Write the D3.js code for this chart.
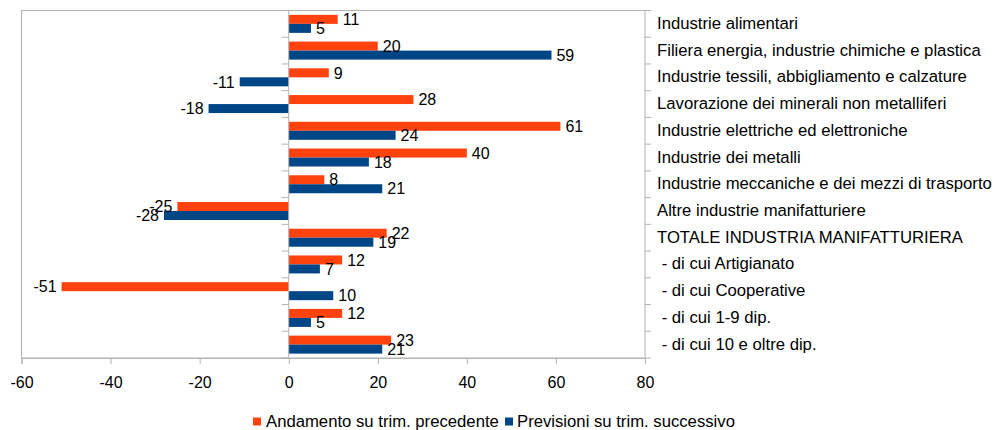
<!DOCTYPE html>
<html>
<head>
<meta charset="utf-8">
<script src="https://cdn.jsdelivr.net/npm/d3@7"></script>
<style>
  html, body { margin: 0; padding: 0; background: #ffffff; }
  svg { display: block; font-family: "Liberation Sans", Arial, sans-serif; }
</style>
</head>
<body>
<svg id="chart" width="994" height="430"></svg>
<script>
// Categories, top to bottom
const categories = [
  "Industrie alimentari",
  "Filiera energia, industrie chimiche e plastica",
  "Industrie tessili, abbigliamento e calzature",
  "Lavorazione dei minerali non metalliferi",
  "Industrie elettriche ed elettroniche",
  "Industrie dei metalli",
  "Industrie meccaniche e dei mezzi di trasporto",
  "Altre industrie manifatturiere",
  "TOTALE INDUSTRIA MANIFATTURIERA",
  " - di cui Artigianato",
  " - di cui Cooperative",
  " - di cui 1-9 dip.",
  " - di cui 10 e oltre dip."
];

const seriesNames = ["Andamento su trim. precedente", "Previsioni su trim. successivo"];
const seriesColors = ["#ff420e", "#004586"];

const andamento = [11, 20, 9, 28, 61, 40, 8, -25, 22, 12, -51, 12, 23];
const previsioni = [5, 59, -11, -18, 24, 18, 21, -28, 19, 7, 10, 5, 21];

const xTicks = [-60, -40, -20, 0, 20, 40, 60, 80];

const series = [andamento, previsioni];

const svg = d3.select("#chart");
const plot = { left: 21.5, right: 645, top: 10.5, bottom: 358 };
const gridColor = "#b3b3b3";

const x = d3.scaleLinear().domain([-60, 80]).range([plot.left, plot.right]);
const y = d3.scaleBand().domain(categories).range([plot.top, plot.bottom])
  .paddingInner(0.327).paddingOuter(0.1635);
const ySub = d3.scaleBand().domain([0, 1]).range([0, y.bandwidth()]);

// Plot frame
svg.append("rect")
  .attr("x", plot.left).attr("y", plot.top)
  .attr("width", plot.right - plot.left).attr("height", plot.bottom - plot.top)
  .attr("fill", "none").attr("stroke", gridColor).attr("stroke-width", 1);

// Bottom value axis
const xAxis = svg.append("g")
  .attr("transform", `translate(0,${plot.bottom})`)
  .call(d3.axisBottom(x).tickValues(xTicks).tickSize(6).tickPadding(13)
    .tickFormat(d => d3.format("d")(d).replace("\u2212", "-")));
xAxis.select(".domain").attr("stroke", gridColor);
xAxis.selectAll(".tick line").attr("stroke", gridColor);
xAxis.selectAll(".tick text").attr("fill", "#000").style("font-size", "16px")
  .style("font-family", "'Liberation Sans', Arial, sans-serif");

// Category boundary ticks on the zero line and on the right frame
const boundaries = d3.range(categories.length + 1).map(i => plot.top + i * (plot.bottom - plot.top) / categories.length);
svg.append("g").selectAll("line").data(boundaries).join("line")
  .attr("x1", x(0) - 7).attr("x2", x(0))
  .attr("y1", d => d).attr("y2", d => d)
  .attr("stroke", gridColor);
svg.append("g").selectAll("line").data(boundaries).join("line")
  .attr("x1", plot.right).attr("x2", plot.right + 6)
  .attr("y1", d => d).attr("y2", d => d)
  .attr("stroke", gridColor);

// Bars
const barRows = [];
categories.forEach((c, i) => {
  series.forEach((s, k) => barRows.push({ cat: c, k, v: s[i] }));
});

svg.append("g").selectAll("rect").data(barRows).join("rect")
  .attr("x", d => x(Math.min(0, d.v)))
  .attr("width", d => Math.abs(x(d.v) - x(0)))
  .attr("y", d => y(d.cat) + ySub(d.k))
  .attr("height", ySub.bandwidth())
  .attr("fill", d => seriesColors[d.k]);

// Zero line
svg.append("line")
  .attr("x1", x(0)).attr("x2", x(0))
  .attr("y1", plot.top).attr("y2", plot.bottom)
  .attr("stroke", gridColor);

// Value labels
svg.append("g").selectAll("text").data(barRows).join("text")
  .attr("x", d => d.v >= 0 ? x(d.v) + 5 : x(d.v) - 5)
  .attr("y", d => y(d.cat) + ySub(d.k) + ySub.bandwidth() / 2 + 5.7)
  .attr("text-anchor", d => d.v >= 0 ? "start" : "end")
  .style("font-size", "16px")
  .attr("fill", "#000")
  .text(d => String(d.v));

// Category labels on the right
svg.append("g").selectAll("text").data(categories).join("text")
  .attr("x", 657)
  .attr("y", d => y(d) + y.bandwidth() / 2 + 5)
  .style("font-size", "16.7px")
  .style("white-space", "pre")
  .attr("fill", "#000")
  .text(d => d);

// Legend below the chart
const legendItems = [
  { name: seriesNames[0], color: seriesColors[0], x: 253, tx: 266 },
  { name: seriesNames[1], color: seriesColors[1], x: 505, tx: 517 }
];
const legend = svg.append("g");
legend.selectAll("rect").data(legendItems).join("rect")
  .attr("x", d => d.x).attr("y", 417.5).attr("width", 8).attr("height", 8)
  .attr("fill", d => d.color);
legend.selectAll("text").data(legendItems).join("text")
  .attr("x", d => d.tx).attr("y", 427.4)
  .style("font-size", "16.7px")
  .attr("fill", "#000")
  .text(d => d.name);
</script>
</body>
</html>
